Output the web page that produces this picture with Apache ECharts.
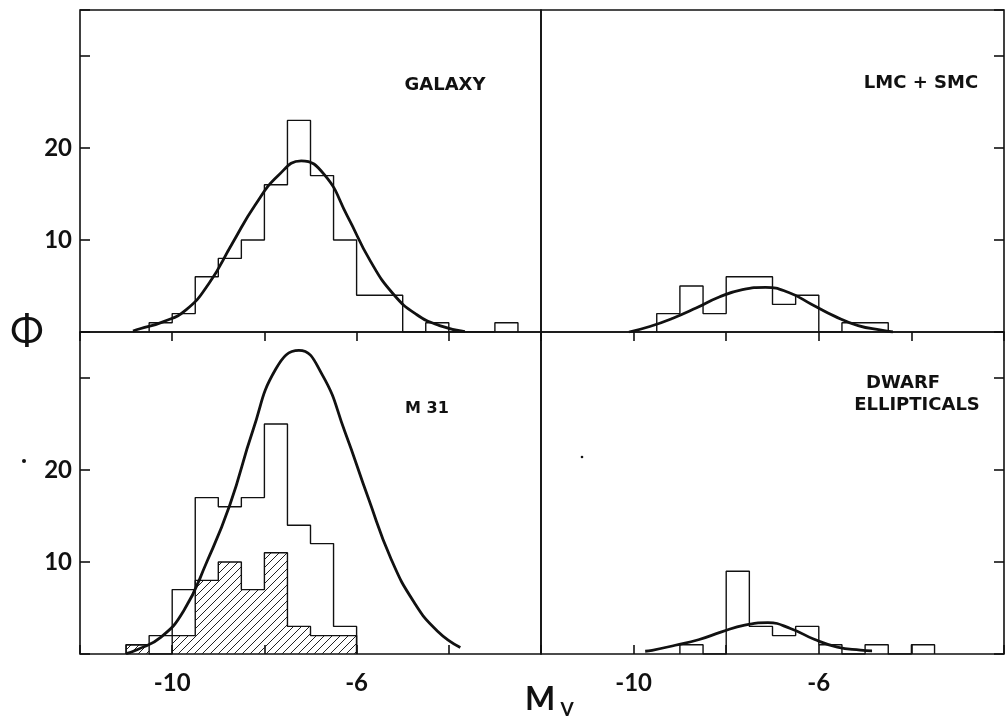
<!DOCTYPE html>
<html>
<head>
<meta charset="utf-8">
<script src="https://cdn.jsdelivr.net/npm/echarts@6.0.0/dist/echarts.min.js"></script>
<style>
html, body { margin: 0; padding: 0; background: #fff; }
#chart { width: 1007px; height: 718px; }
</style>
</head>
<body>
<div id="chart"></div>
<script>
"use strict";

var BIN_WIDTH = 0.5;

// histograms: first bin edge (M_V) and counts per 0.5 mag bin
var galaxyStart = -10.5;
var galaxyCounts = [1, 2, 6, 8, 10, 16, 23, 17, 10, 4, 4, 0, 1, 0, 0, 1];

var lmcStart = -9.5;
var lmcCounts = [2, 5, 2, 6, 6, 3, 4, 0, 1, 1];

var m31Start = -11;
var m31Counts = [1, 2, 7, 17, 16, 17, 25, 14, 12, 3];
var m31Hatched = [1, 0, 2, 8, 10, 7, 11, 3, 2, 2];

var dwarfStart = -9;
var dwarfCounts = [1, 0, 9, 3, 2, 3, 1, 0, 1, 0, 1];

// fitted curves
var galaxyFitMag = [-10.85, -10.7, -10.2, -9.7, -9.2, -8.7, -8.2, -7.7, -7.2, -6.7, -6.2, -5.7, -5.2, -4.7, -4.2, -3.65];
var galaxyFitPhi = [0.1, 0.35, 1.1, 2.4, 5.3, 9.6, 13.8, 17.0, 18.6, 17.1, 12.6, 7.7, 4.1, 1.9, 0.7, 0.05];

var lmcFitMag = [-10.1, -9.65, -9.15, -8.65, -8.15, -7.65, -7.15, -6.65, -6.15, -5.65, -5.15, -4.65, -4.4];
var lmcFitPhi = [0, 0.6, 1.5, 2.6, 3.8, 4.6, 4.85, 4.3, 3.0, 1.7, 0.7, 0.2, 0];

var m31FitMag = [-11, -10.75, -10.25, -9.75, -9.25, -8.75, -8.25, -7.75, -7.25, -6.75, -6.25, -5.75, -5.25, -4.75, -4.25, -3.75];
var m31FitPhi = [0.05, 0.5, 1.8, 4.7, 10.0, 16.2, 24.3, 31.0, 33.0, 30.4, 24.1, 17.0, 10.3, 5.6, 2.5, 0.7];

var dwarfFitMag = [-9.75, -9.6, -9.1, -8.6, -8.1, -7.6, -7.1, -6.6, -6.1, -5.6, -5.1, -4.85];
var dwarfFitPhi = [0.3, 0.4, 0.95, 1.55, 2.4, 3.15, 3.4, 2.75, 1.6, 0.75, 0.42, 0.35];

var xTickLabels = [-10, -6];
var yTickLabels = [10, 20];

var INK = '#111';
var TICK_FONT = 'Lato, "DejaVu Sans", sans-serif';
var LABEL_FONT = '"DejaVu Sans", sans-serif';

function stepData(start, counts) {
	var d = [[start, 0]];
	for (var i = 0; i < counts.length; i++) {
		d.push([start + i * BIN_WIDTH, counts[i]]);
	}
	d.push([start + counts.length * BIN_WIDTH, 0]);
	return d;
}

function zip(xs, ys) {
	var d = [];
	for (var i = 0; i < xs.length; i++) d.push([xs[i], ys[i]]);
	return d;
}

function makeHatch() {
	var c = document.createElement('canvas');
	c.width = 8;
	c.height = 8;
	var ctx = c.getContext('2d');
	ctx.strokeStyle = '#222';
	ctx.lineWidth = 1;
	ctx.beginPath();
	ctx.moveTo(0, 8); ctx.lineTo(8, 0);
	ctx.moveTo(-2, 2); ctx.lineTo(2, -2);
	ctx.moveTo(6, 10); ctx.lineTo(10, 6);
	ctx.stroke();
	return c;
}

function histSeries(idx, data, area) {
	var s = {
		type: 'line',
		xAxisIndex: idx,
		yAxisIndex: idx,
		step: 'end',
		showSymbol: false,
		silent: true,
		lineStyle: { color: INK, width: 1.4 },
		data: data,
		z: 3
	};
	if (area) s.areaStyle = { color: { image: makeHatch(), repeat: 'repeat' }, opacity: 1 };
	return s;
}

function fitSeries(idx, data) {
	return {
		type: 'line',
		xAxisIndex: idx,
		yAxisIndex: idx,
		smooth: 0.5,
		showSymbol: false,
		silent: true,
		lineStyle: { color: INK, width: 2.8 },
		data: data,
		z: 4
	};
}

var grids = [
	{ left: 80, top: 10, width: 461, height: 322 },
	{ left: 541, top: 10, width: 463, height: 322 },
	{ left: 80, top: 332, width: 461, height: 322 },
	{ left: 541, top: 332, width: 463, height: 322 }
];

var xAxes = [], yAxes = [];
for (var i = 0; i < 4; i++) {
	grids[i].show = true;
	grids[i].borderColor = INK;
	grids[i].borderWidth = 1.6;
	grids[i].backgroundColor = 'transparent';
	xAxes.push({
		gridIndex: i,
		type: 'value',
		min: -12,
		max: -2,
		interval: 2,
		position: i < 2 ? 'top' : 'bottom',
		axisLine: { show: false },
		axisTick: { inside: true, length: 9, lineStyle: { color: INK, width: 1.6 } },
		splitLine: { show: false },
		axisLabel: {
			show: i >= 2,
			margin: 17,
			fontSize: 24,
			fontFamily: TICK_FONT,
			fontWeight: 'bold',
			color: INK,
			formatter: function(v) { return xTickLabels.indexOf(v) >= 0 ? String(v) : ''; }
		}
	});
	yAxes.push({
		gridIndex: i,
		type: 'value',
		min: 0,
		max: 35,
		interval: 10,
		position: i % 2 === 0 ? 'left' : 'right',
		axisLine: { show: false },
		axisTick: { inside: true, length: 10, lineStyle: { color: INK, width: 1.6 } },
		splitLine: { show: false },
		axisLabel: {
			show: i % 2 === 0,
			margin: 8,
			fontSize: 24,
			fontFamily: TICK_FONT,
			fontWeight: 'bold',
			color: INK,
			formatter: function(v) { return yTickLabels.indexOf(v) >= 0 ? String(v) : ''; }
		}
	});
}

var series = [
	histSeries(0, stepData(galaxyStart, galaxyCounts)),
	fitSeries(0, zip(galaxyFitMag, galaxyFitPhi)),
	histSeries(1, stepData(lmcStart, lmcCounts)),
	fitSeries(1, zip(lmcFitMag, lmcFitPhi)),
	histSeries(2, stepData(m31Start, m31Hatched), true),
	histSeries(2, stepData(m31Start, m31Counts)),
	fitSeries(2, zip(m31FitMag, m31FitPhi)),
	histSeries(3, stepData(dwarfStart, dwarfCounts)),
	fitSeries(3, zip(dwarfFitMag, dwarfFitPhi))
];

function label(text, x, y, size, font, weight) {
	return {
		type: 'text',
		x: x,
		y: y,
		silent: true,
		style: {
			text: text,
			fill: INK,
			font: (weight || 'bold') + ' ' + size + 'px ' + (font || LABEL_FONT),
			textAlign: 'center',
			textVerticalAlign: 'middle'
		}
	};
}

var chart = echarts.init(document.getElementById('chart'), null, { renderer: 'canvas' });
chart.setOption({
	backgroundColor: '#fff',
	animation: false,
	grid: grids,
	xAxis: xAxes,
	yAxis: yAxes,
	series: series,
	graphic: [
		label('GALAXY', 445, 85, 18),
		label('LMC + SMC', 921, 83, 18),
		label('M 31', 427, 409, 16),
		label('DWARF', 903, 383, 18),
		label('ELLIPTICALS', 917, 405, 18),
		label('Φ', 27, 332, 40, TICK_FONT, 'normal'),
		label('M', 540, 700, 32, TICK_FONT),
		label('V', 567, 710, 19, TICK_FONT),
		{ type: 'circle', silent: true, shape: { cx: 24, cy: 461, r: 2 }, style: { fill: INK } },
		{ type: 'circle', silent: true, shape: { cx: 582, cy: 457, r: 1.3 }, style: { fill: INK } }
	]
});
</script>
</body>
</html>
